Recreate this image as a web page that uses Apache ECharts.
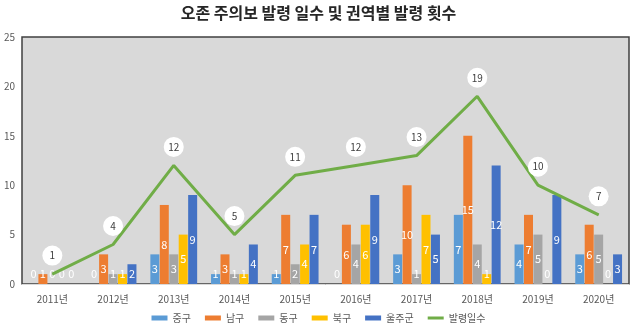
<!DOCTYPE html>
<html><head><meta charset="utf-8">
<script src="https://cdn.jsdelivr.net/npm/echarts@6/dist/echarts.min.js"></script>
<style>html,body{margin:0;padding:0;background:#fff}#c{width:637px;height:328px}</style>
</head><body><div id="c"></div>
<script>
var categories = ['2011년','2012년','2013년','2014년','2015년','2016년','2017년','2018년','2019년','2020년'];
var junggu  = [0,0,3,1,1,0,3,7,4,3];
var namgu   = [1,3,8,3,7,6,10,15,7,6];
var donggu  = [0,1,3,1,2,4,1,4,5,5];
var bukgu   = [0,1,5,1,4,6,7,1,0,0];
var uljugun = [0,2,9,4,7,9,5,12,9,3];
var days    = [1,4,12,5,11,12,13,19,10,7];
var yTicks  = [0,5,10,15,20,25];

var FONT = '"Noto Sans CJK KR","Noto Sans",sans-serif';
function barData(arr){
  return arr.map(function(v){
    if (v <= 1) return {value:v, label:{position:'insideBottom', distance:5}};
    return v;
  });
}
function barSeries(name, arr, color){
  return {
    name:name, type:'bar', data:barData(arr), barWidth:9, barGap:'5%',
    itemStyle:{color:color},
    label:{show:true, position:'inside', color:'#fff', fontSize:11, fontFamily:FONT},
    z:2
  };
}
var chart = echarts.init(document.getElementById('c'), null, {renderer:'canvas'});
chart.setOption({
  animation:false,
  backgroundColor:'#fff',
  title:{text:'오존 주의보 발령 일수 및 권역별 발령 횟수', left:'center', top:0,
    textStyle:{fontFamily:FONT, fontSize:16, fontWeight:'bold', color:'#262626'}},
  legend:{bottom:0, itemWidth:16, itemHeight:5, itemGap:14,
    textStyle:{fontFamily:FONT, fontSize:10, color:'#595959'},
    data:[{name:'중구',icon:'rect'},{name:'남구',icon:'rect'},{name:'동구',icon:'rect'},{name:'북구',icon:'rect'},{name:'울주군',icon:'rect'},
      {name:'발령일수', icon:'path://M0 0H16V3H0Z'}]},
  grid:{left:22, right:8, top:37, bottom:44, show:true, backgroundColor:'#d9d9d9', borderColor:'#404040', borderWidth:1.5},
  xAxis:{type:'category', data:categories,
    axisLine:{show:true, lineStyle:{color:'#d9d9d9'}}, axisTick:{show:false},
    axisLabel:{fontFamily:FONT, fontSize:10, color:'#595959', margin:10}},
  yAxis:{type:'value', min:0, max:25, interval:5,
    splitLine:{show:false}, axisLine:{show:false}, axisTick:{show:false},
    axisLabel:{fontFamily:FONT, fontSize:10, color:'#595959', margin:7,
      formatter:function(v){return yTicks.indexOf(v)>=0?String(v):'';}}},
  series:[
    barSeries('중구', junggu, '#5b9bd5'),
    barSeries('남구', namgu, '#ed7d31'),
    barSeries('동구', donggu, '#a5a5a5'),
    barSeries('북구', bukgu, '#ffc000'),
    barSeries('울주군', uljugun, '#4472c4'),
    {name:'발령일수', type:'line', data:days, symbol:'circle', symbolSize:1,
     itemStyle:{color:'#70ad47'}, lineStyle:{color:'#70ad47', width:3}, z:5,
     label:{show:true, position:'top', distance:8, fontFamily:FONT, fontSize:10, color:'#404040',
       backgroundColor:'#fff', borderRadius:10, width:20, height:20, lineHeight:20, align:'center', padding:0}}
  ]
});
</script></body></html>
